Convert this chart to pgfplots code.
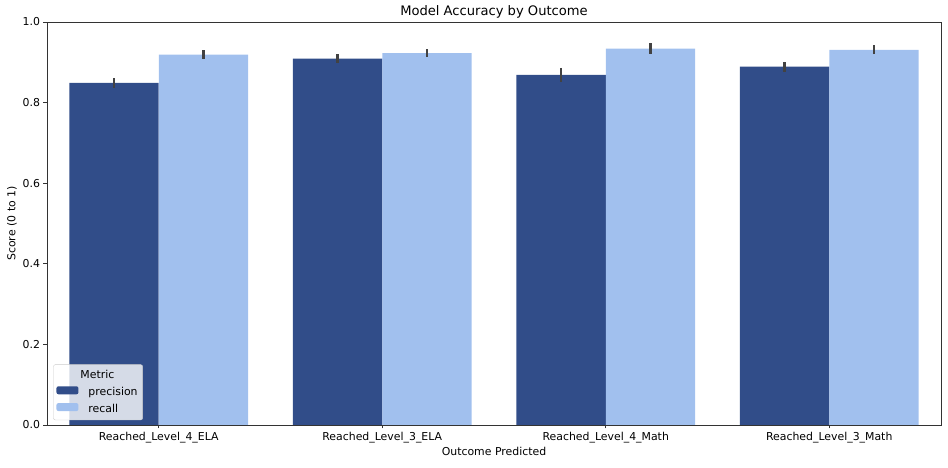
\documentclass[border=0pt]{standalone}
\usepackage{fontspec}
\setmainfont{DejaVu Sans}
\usepackage{pgfplots}
\pgfplotsset{compat=1.18}
\definecolor{prec}{HTML}{314D89}
\definecolor{rec}{HTML}{A1C0EE}
\definecolor{errc}{HTML}{424242}
\begin{document}
\begin{tikzpicture}
\useasboundingbox (-47pt,-43pt) rectangle (901pt,425pt);
\begin{axis}[
  at={(0pt,0pt)}, anchor=south west,
  width=894pt, height=403pt, scale only axis,
  xmin=-0.5, xmax=3.5, ymin=0, ymax=1,
  xtick={0,1,2,3},
  xticklabels={Reached\_Level\_4\_ELA,Reached\_Level\_3\_ELA,Reached\_Level\_4\_Math,Reached\_Level\_3\_Math},
  ytick={0,0.2,0.4,0.6,0.8,1.0},
  yticklabel style={/pgf/number format/fixed,/pgf/number format/fixed zerofill,/pgf/number format/precision=1},
  /pgf/number format/assume math mode=true,
  xtick pos=left, ytick pos=left,
  tick align=outside, major tick length=3.5pt,
  tick style={black!80, line width=0.8pt},
  axis line style={black!80, line width=0.8pt},
  tick label style={font=\fontsize{10.9}{13}\selectfont},
  xlabel={Outcome Predicted}, ylabel={Score (0 to 1)},
  label style={font=\fontsize{10.9}{13}\selectfont},
  title={Model Accuracy by Outcome},
  title style={font=\fontsize{13.1}{15}\selectfont, yshift=-6pt},
  ylabel style={yshift=-1pt},
  xlabel style={yshift=3pt},
  ybar, bar width=0.4,
  legend cell align=left,
  legend style={at={(0.007,0.012)}, anchor=south west, fill=white, fill opacity=0.8, text opacity=1, draw=black!20, rounded corners=2pt, font=\fontsize{10.9}{13}\selectfont, row sep=3pt, inner xsep=3pt, inner ysep=4pt,
    /tikz/every odd column/.append style={column sep=8pt}},
  legend image code/.code={\fill[#1, fill opacity=1] (0pt,-2pt) rectangle (22pt,6pt);},
]
\addlegendimage{empty legend}
\addlegendentry{\hspace{-8pt}Metric}
\addplot[fill=prec, draw=none, bar shift=-0.2,
  error bars/.cd, y dir=both, y explicit, error mark=none,
  error bar style={line width=2.2pt, color=errc}]
  coordinates {(0,0.849) +- (0,0.012) (1,0.909) +- (0,0.011) (2,0.869) +- (0,0.017) (3,0.889) +- (0,0.012)};
\addlegendentry{precision}
\addplot[fill=rec, draw=none, bar shift=0.2,
  error bars/.cd, y dir=both, y explicit, error mark=none,
  error bar style={line width=2.2pt, color=errc}]
  coordinates {(0,0.919) +- (0,0.011) (1,0.923) +- (0,0.009) (2,0.934) +- (0,0.014) (3,0.931) +- (0,0.011)};
\addlegendentry{recall}
\end{axis}
\end{tikzpicture}
\end{document}
